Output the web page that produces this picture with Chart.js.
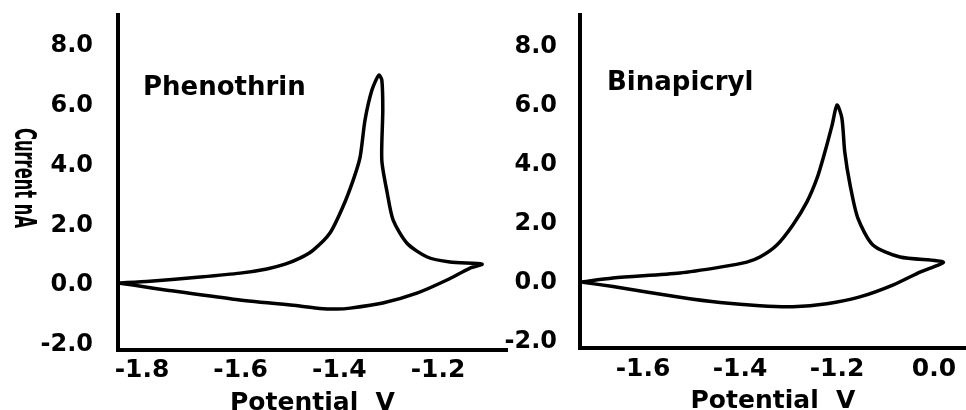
<!DOCTYPE html>
<html>
<head>
<meta charset="utf-8">
<script src="https://cdn.jsdelivr.net/npm/chart.js@4.4.1/dist/chart.umd.min.js"></script>
<style>
  body { margin: 0; background: #fff; }
  .box { position: absolute; top: 0; height: 410px; }
</style>
</head>
<body>
<div class="box" style="left:0;width:510px"><canvas id="phenoChart"></canvas></div>
<div class="box" style="left:500px;width:466px"><canvas id="binaChart"></canvas></div>
<script>
// Phenothrin voltammogram (forward sweep, then return)
const phenoV = [-1.849, -1.784, -1.682, -1.601, -1.547, -1.510, -1.480, -1.453, -1.419, -1.393, -1.372, -1.358, -1.348, -1.334, -1.320,
  -1.314, -1.312, -1.314, -1.303, -1.291, -1.263, -1.222, -1.176, -1.111,
  -1.135, -1.182, -1.243, -1.312, -1.378, -1.405, -1.440, -1.480, -1.615, -1.749, -1.818, -1.849];
const phenoI = [0.07, 0.13, 0.27, 0.40, 0.54, 0.70, 0.90, 1.17, 1.74, 2.61, 3.51, 4.28, 5.52, 6.52, 7.02,
  6.86, 5.85, 4.18, 3.08, 2.17, 1.40, 0.94, 0.77, 0.70,
  0.57, 0.17, -0.27, -0.60, -0.77, -0.80, -0.78, -0.70, -0.47, -0.17, 0.00, 0.07];

// Binapicryl voltammogram
const binaV = [-1.730, -1.662, -1.524, -1.441, -1.386, -1.359, -1.324, -1.291, -1.262, -1.241, -1.225, -1.210, -1.200,
  -1.190, -1.184, -1.173, -1.157, -1.126, -1.070, -0.981,
  -1.029, -1.085, -1.153, -1.221, -1.291, -1.359, -1.441, -1.524, -1.662, -1.724];
const binaI = [0.03, 0.17, 0.34, 0.54, 0.71, 0.88, 1.29, 1.97, 2.75, 3.56, 4.44, 5.36, 6.03,
  5.59, 4.44, 3.32, 2.20, 1.29, 0.88, 0.71,
  0.37, -0.07, -0.47, -0.70, -0.80, -0.77, -0.66, -0.48, -0.12, 0.03];

const yTicks = [-2, 0, 2, 4, 6, 8];
const phenoXTicks = [-1.8, -1.6, -1.4, -1.2];
const binaXTicks = [-1.6, -1.4, -1.2, -1.0];
const binaXLabels = ['-1.6', '-1.4', '-1.2', '0.0'];

const tickFont = { family: 'DejaVu Sans', weight: 'bold', size: 24 };

const textPlugin = {
  id: 'panelText',
  afterDraw(chart, args, opts) {
    const ctx = chart.ctx;
    const area = chart.chartArea;
    ctx.save();
    ctx.fillStyle = '#000';
    ctx.font = 'bold 26px "DejaVu Sans"';
    ctx.textBaseline = 'alphabetic';
    ctx.fillText(opts.name, area.left + opts.dx, area.top + opts.dy);
    if (opts.yTitle) {
      ctx.font = 'bold 30px "DejaVu Sans"';
      const w = ctx.measureText(opts.yTitle).width;
      ctx.translate(area.left - 95, 178);
      ctx.rotate(Math.PI / 2);
      ctx.scale(100 / w, 1);
      ctx.textAlign = 'center';
      ctx.textBaseline = 'middle';
      ctx.fillText(opts.yTitle, 0, 0);
    }
    ctx.restore();
  }
};

function makeChart(id, xs, ys, opt) {
  const pts = xs.map((x, i) => ({ x: x, y: ys[i] }));
  return new Chart(document.getElementById(id), {
    type: 'scatter',
    data: {
      datasets: [{
        data: pts,
        showLine: true,
        borderColor: '#000',
        borderWidth: 3.5,
        pointRadius: 0,
        tension: 0.25,
        borderJoinStyle: 'round'
      }]
    },
    options: {
      responsive: true,
      maintainAspectRatio: false,
      animation: false,
      layout: { padding: opt.padding },
      plugins: {
        legend: { display: false },
        tooltip: { enabled: false },
        panelText: { name: opt.name, dx: opt.dx, dy: opt.dy, yTitle: opt.yTitle }
      },
      scales: {
        x: {
          type: 'linear',
          min: opt.xMin,
          max: opt.xMax,
          afterBuildTicks: s => { s.ticks = opt.xTicks.map(v => ({ value: v })); },
          afterFit: s => { s.height = opt.xHeight; s.paddingLeft = 0; s.paddingRight = 0; },
          grid: { color: 'transparent', drawTicks: false },
          border: { color: '#000', width: 4 },
          ticks: {
            padding: opt.xPad,
            color: '#000',
            font: { family: 'DejaVu Sans', weight: 'bold', size: 25 },
            callback: (v, i) => opt.xLabels ? opt.xLabels[i] : v.toFixed(1)
          },
          title: {
            display: true,
            text: 'Potential  V',
            color: '#000',
            font: { family: 'DejaVu Sans', weight: 'bold', size: 25 },
            padding: { top: 0, bottom: opt.titlePad }
          }
        },
        y: {
          min: opt.yMin,
          max: opt.yMax,
          afterBuildTicks: s => { s.ticks = yTicks.map(v => ({ value: v })); },
          afterFit: s => { s.width = opt.yWidth; s.paddingTop = 0; s.paddingBottom = 0; },
          grid: { color: 'transparent', drawTicks: false },
          border: { color: '#000', width: 4 },
          ticks: {
            padding: opt.yPad,
            color: '#000',
            font: tickFont,
            callback: v => v.toFixed(1)
          }
        }
      }
    },
    plugins: [textPlugin]
  });
}

makeChart('phenoChart', phenoV, phenoI, {
  name: 'Phenothrin', dx: 25, dy: 80, yTitle: 'Current nA',
  padding: { top: 15, right: 3, bottom: 0, left: 0 },
  xMin: -1.8486, xMax: -1.0603, xTicks: phenoXTicks, xHeight: 60, xPad: 5, titlePad: -8,
  yMin: -2.17, yMax: 9.03, yWidth: 118, yPad: 25
});

makeChart('binaChart', binaV, binaI, {
  name: 'Binapicryl', dx: 27, dy: 75,
  padding: { top: 15, right: 0, bottom: 0, left: 0 },
  xMin: -1.730, xMax: -0.934, xTicks: binaXTicks, xLabels: binaXLabels, xHeight: 62, xPad: 6, titlePad: -6,
  yMin: -2.2, yMax: 9.08, yWidth: 80, yPad: 23
});
</script>
</body>
</html>
